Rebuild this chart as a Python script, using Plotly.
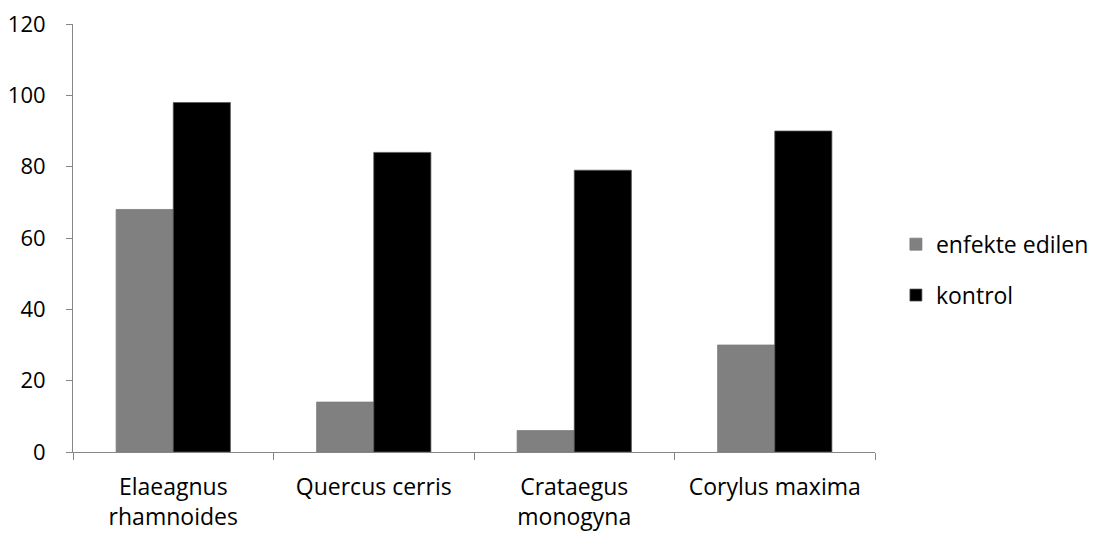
import plotly.graph_objects as go

categories = ["Elaeagnus<br>rhamnoides", "Quercus cerris", "Crataegus<br>monogyna", "Corylus maxima"]
enfekte = [68, 14, 6, 30]
kontrol = [98, 84, 79, 90]
series_names = ["enfekte edilen", "kontrol"]
y_ticks = [0, 20, 40, 60, 80, 100, 120]

FONT = "Open Sans"
FS = 23
fig = go.Figure()
fig.add_trace(go.Bar(x=categories, y=enfekte, name=series_names[0], legendgroup="a",
                     marker=dict(color="#808080", line=dict(color="#7a7a7a", width=0.75))))
fig.add_trace(go.Bar(x=categories, y=kontrol, name=series_names[1], legendgroup="b",
                     marker=dict(color="#000000", line=dict(color="#555555", width=0.75))))

fig.update_layout(
    width=1103, height=533,
    margin=dict(l=65, r=236, t=16, b=89),
    paper_bgcolor="white", plot_bgcolor="white",
    barmode="group", bargap=0.43, bargroupgap=0,
    font=dict(family=FONT, size=FS, color="#000000"),
    showlegend=True,
    legend=dict(xref="container", yref="container", x=0.805, y=0.509,
                xanchor="left", yanchor="middle",
                traceorder="grouped", tracegroupgap=18,
                font=dict(family=FONT, size=FS), itemwidth=30),
)
fig.update_yaxes(range=[0, 120], tickvals=y_ticks, showgrid=False, zeroline=False,
                 showline=True, linecolor="#868686", linewidth=1, automargin=False,
                 ticks="outside", ticklen=6, tickcolor="#868686", ticklabeloverflow="allow",
                 tickfont=dict(family=FONT, size=22), ticklabelstandoff=16)
fig.update_xaxes(showgrid=False, showline=True, linecolor="#868686", linewidth=1, automargin=False,
                 ticks="outside", ticklen=7, tickcolor="#868686", tickson="boundaries",
                 ticklabeloverflow="allow",
                 tickfont=dict(family=FONT, size=FS), ticklabelstandoff=14)

fig.write_html("out.html")
